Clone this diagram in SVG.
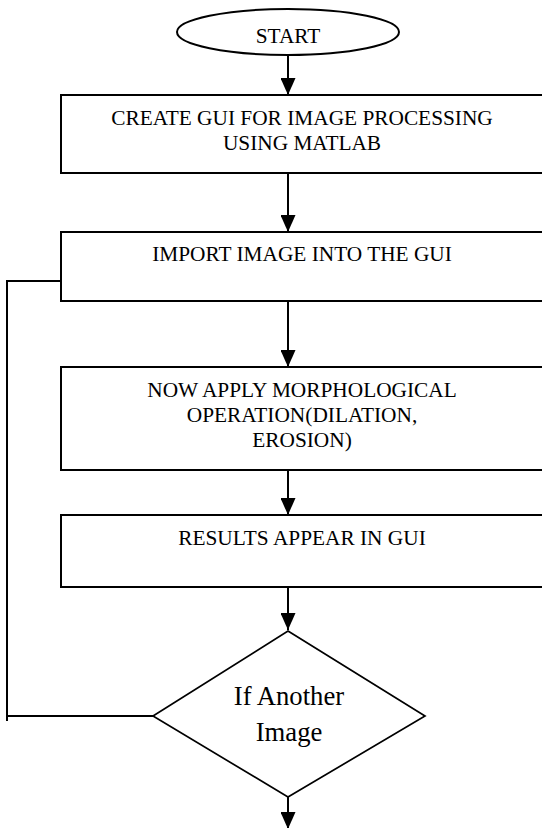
<svg xmlns="http://www.w3.org/2000/svg" width="542" height="828" viewBox="0 0 542 828">
<defs>
<marker id="ah" markerWidth="17" markerHeight="15" refX="17" refY="7.5" orient="auto" markerUnits="userSpaceOnUse" viewBox="0 0 17 15">
<path d="M0,0 L17,7.5 L0,15 Z" fill="#000"/>
</marker>
</defs>
<style>
.box{fill:#fff;stroke:#000;stroke-width:2}
.t{font-family:"Liberation Serif","Times New Roman",serif;font-size:21.33px;fill:#000;text-anchor:middle}
.tb{font-family:"Liberation Serif","Times New Roman",serif;font-size:26.67px;fill:#000;text-anchor:middle}
.c{fill:none;stroke:#000;stroke-width:2}
</style>
<rect width="542" height="828" fill="#fff"/>
<g id="connectors">
<line class="c" x1="288" y1="55" x2="288" y2="95" marker-end="url(#ah)"/>
<line class="c" x1="288" y1="173" x2="288" y2="232" marker-end="url(#ah)"/>
<line class="c" x1="288" y1="301" x2="288" y2="367" marker-end="url(#ah)"/>
<line class="c" x1="288" y1="470" x2="288" y2="515" marker-end="url(#ah)"/>
<line class="c" x1="288" y1="587" x2="288" y2="630" marker-end="url(#ah)"/>
<line class="c" x1="288" y1="797" x2="288" y2="829" marker-end="url(#ah)"/>
<polyline class="c" points="153,716 7,716"/>
<polyline class="c" points="7,721 7,281 61,281"/>
</g>
<g id="start">
<ellipse cx="288" cy="32" rx="111" ry="23" fill="#fff" stroke="#000" stroke-width="2"/>
<text class="t" x="288" y="43">START</text>
</g>
<g id="create-gui">
<rect class="box" x="61" y="95" width="500" height="78"/>
<text class="t" x="302" y="125">CREATE GUI FOR IMAGE PROCESSING</text>
<text class="t" x="302" y="150">USING MATLAB</text>
</g>
<g id="import-image">
<rect class="box" x="61" y="232" width="500" height="69"/>
<text class="t" x="302" y="261">IMPORT IMAGE INTO THE GUI</text>
</g>
<g id="apply-morph">
<rect class="box" x="61" y="367" width="500" height="103"/>
<text class="t" x="302" y="397">NOW APPLY MORPHOLOGICAL</text>
<text class="t" x="302" y="422">OPERATION(DILATION,</text>
<text class="t" x="302" y="447">EROSION)</text>
</g>
<g id="results">
<rect class="box" x="61" y="515" width="500" height="72"/>
<text class="t" x="302" y="545">RESULTS APPEAR IN GUI</text>
</g>
<g id="decision">
<polygon points="288,631 425,716 288,797 153,716" fill="#fff" stroke="#000" stroke-width="1.7"/>
<text class="tb" x="289" y="705">If Another</text>
<text class="tb" x="289" y="741">Image</text>
</g>
</svg>
